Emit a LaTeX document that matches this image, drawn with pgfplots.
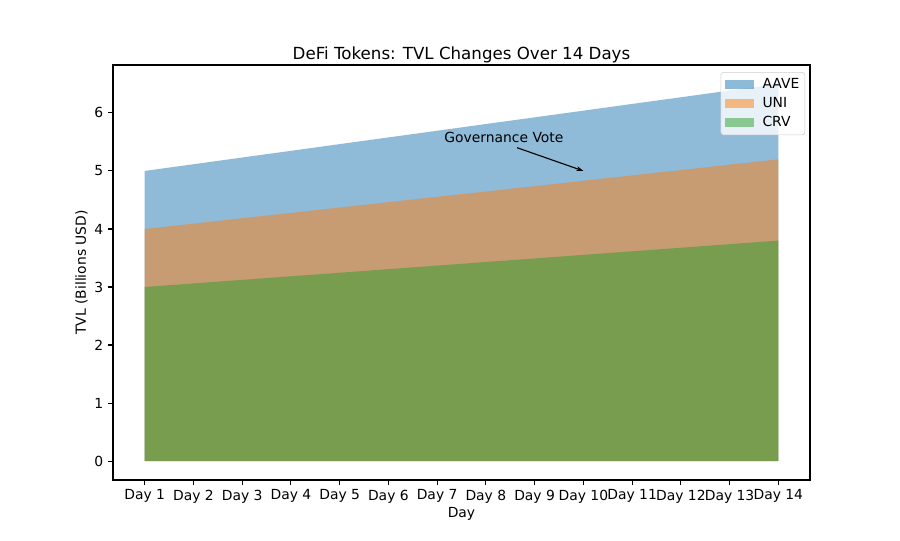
\documentclass[border=0pt]{standalone}
\usepackage{pgfplots}
\usepackage{pgfplotstable}
\pgfplotsset{compat=1.18}
\usepackage{fontspec}
\setmainfont{DejaVu Sans}
\usetikzlibrary{arrows.meta}
\definecolor{tabblue}{HTML}{1F77B4}
\definecolor{taborange}{HTML}{FF7F0E}
\definecolor{tabgreen}{HTML}{2CA02C}
\pgfplotstableread{
day aave uni crv
1 5.000 4.000 3.000
2 5.115 4.092 3.062
3 5.231 4.185 3.123
4 5.346 4.277 3.185
5 5.462 4.369 3.246
6 5.577 4.462 3.308
7 5.692 4.554 3.369
8 5.808 4.646 3.431
9 5.923 4.738 3.492
10 6.038 4.831 3.554
11 6.154 4.923 3.615
12 6.269 5.015 3.677
13 6.385 5.108 3.738
14 6.500 5.200 3.800
}\tvl
\begin{document}
\begin{tikzpicture}
\path (0pt,0pt) rectangle (648pt,388.8pt);
\begin{axis}[
  at={(81.36pt,43.2pt)}, anchor=south west,
  scale only axis, width=501.84pt, height=298.8pt,
  xmin=0.35, xmax=14.65, ymin=-0.325, ymax=6.825,
  xtick={1,...,14},
  xticklabels={Day 1,Day 2,Day 3,Day 4,Day 5,Day 6,Day 7,Day 8,Day 9,Day 10,Day 11,Day 12,Day 13,Day 14},
  ytick={0,...,6},
  tick align=outside, tick pos=left,
  major tick length=3.5pt,
  every tick/.style={black, line width=0.8pt},
  axis line style={line width=0.8pt},
  font=\fontsize{10}{12}\selectfont,
  /pgf/number format/assume math mode=true,
  title={DeFi Tokens: TVL Changes Over 14 Days},
  title style={font=\fontsize{12}{14}\selectfont, yshift=-8pt},
  xlabel={Day}, ylabel={TVL (Billions USD)},
  xlabel style={yshift=4pt},
  ylabel style={yshift=-2pt},
  legend style={at={(0.993,0.983)}, anchor=north east, draw=black!20, rounded corners=2pt,
    fill=white, fill opacity=0.8, text opacity=1, font=\fontsize{10}{12}\selectfont,
    row sep=0.8pt, inner xsep=2pt, inner ysep=2.5pt},
  legend cell align=left,
  legend image code/.code={\fill[#1, sharp corners] (1pt,-3.3pt) rectangle (22pt,3.3pt);
     \path (0pt,0pt) (26pt,0pt);},
  clip=false,
]
\addplot[fill=tabblue, fill opacity=0.5, draw=none] table[x=day, y=aave] {\tvl} \closedcycle;
\addlegendentry{AAVE}
\addplot[fill=taborange, fill opacity=0.5, draw=none] table[x=day, y=uni] {\tvl} \closedcycle;
\addlegendentry{UNI}
\addplot[fill=tabgreen, fill opacity=0.5, draw=none] table[x=day, y=crv] {\tvl} \closedcycle;
\addlegendentry{CRV}
\node[font=\fontsize{10}{12}\selectfont] at (axis cs:8.37,5.57) {Governance Vote};
\draw[-{Stealth[length=5pt,width=3.5pt]}, line width=0.8pt] (axis cs:8.64,5.40) -- (axis cs:10,5.0);
\end{axis}
\end{tikzpicture}
\end{document}
